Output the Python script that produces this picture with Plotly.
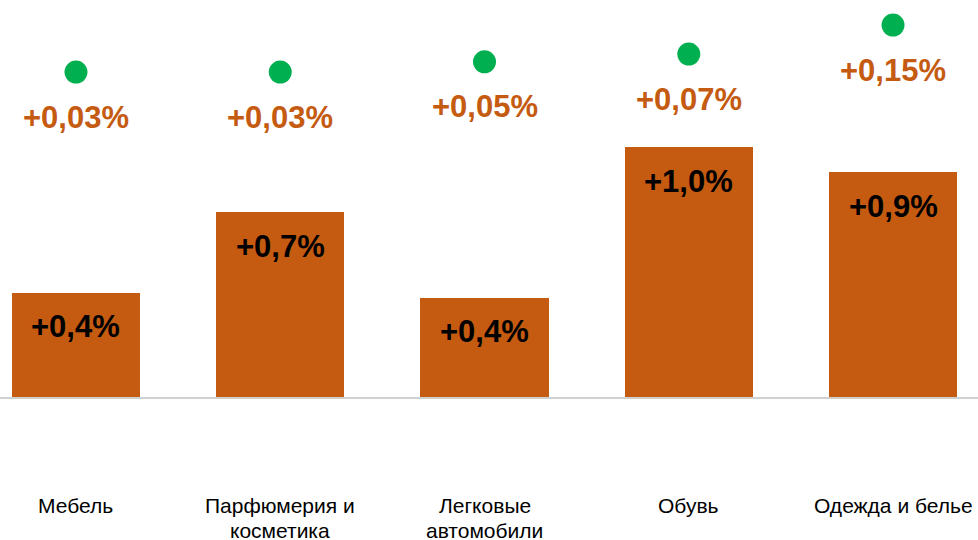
import plotly.graph_objects as go

categories = ["Мебель", "Парфюмерия и<br>косметика", "Легковые<br>автомобили", "Обувь", "Одежда и белье"]
bar_values = [0.42, 0.74, 0.40, 1.0, 0.90]
bar_labels = ["+0,4%", "+0,7%", "+0,4%", "+1,0%", "+0,9%"]
dot_values = [0.03, 0.03, 0.056, 0.076, 0.15]
dot_labels = ["+0,03%", "+0,03%", "+0,05%", "+0,07%", "+0,15%"]

ORANGE = "#C55A11"
GREEN = "#00B050"
FONT = "Arial, Liberation Sans, sans-serif"

fig = go.Figure()
fig.add_trace(go.Bar(x=categories, y=bar_values, marker=dict(color=ORANGE, line=dict(width=0)),
                     width=0.627, hoverinfo="skip", showlegend=False))
fig.add_trace(go.Scatter(x=categories, y=dot_values, yaxis="y2", mode="markers",
                         marker=dict(color=GREEN, size=23, line=dict(width=0)),
                         hoverinfo="skip", showlegend=False))

for c, v, t in zip(categories, bar_values, bar_labels):
    fig.add_annotation(x=c, y=v, yref="y", text=f"<b>{t}</b>", showarrow=False,
                       yanchor="middle", yshift=-34, font=dict(family=FONT, size=31, color="#000000"))
for c, v, t in zip(categories, dot_values, dot_labels):
    fig.add_annotation(x=c, y=v, yref="y2", text=f"<b>{t}</b>", showarrow=False,
                       yanchor="middle", yshift=-45, font=dict(family=FONT, size=31, color=ORANGE))
for c in categories:
    for i, line in enumerate(c.split("<br>")):
        fig.add_annotation(x=c, y=1 - 505 / 540, yref="paper", text=line, showarrow=False,
                           yanchor="middle", yshift=-25 * i,
                           font=dict(family=FONT, size=21, color="#000000"))

fig.add_shape(type="line", xref="paper", yref="y", x0=0, x1=1, y0=0, y1=0,
              line=dict(color="#D0D0D0", width=2), layer="above")

fig.update_layout(
    width=978, height=540,
    margin=dict(l=0, r=0, t=0, b=0),
    paper_bgcolor="white", plot_bgcolor="white",
    xaxis=dict(type="category", range=[-0.372, 4.416], showticklabels=False,
               showgrid=False, zeroline=False, showline=False, fixedrange=True),
    yaxis=dict(range=[-0.566, 1.586], showticklabels=False, showgrid=False,
               zeroline=False, showline=False, fixedrange=True),
    yaxis2=dict(range=[-1.165, 0.214], overlaying="y", showticklabels=False,
                showgrid=False, zeroline=False, showline=False, fixedrange=True),
    bargap=0,
)

fig.write_html("out.html", config={"displayModeBar": False},
               post_script="document.body.style.margin='0';document.body.style.overflow='hidden';")
